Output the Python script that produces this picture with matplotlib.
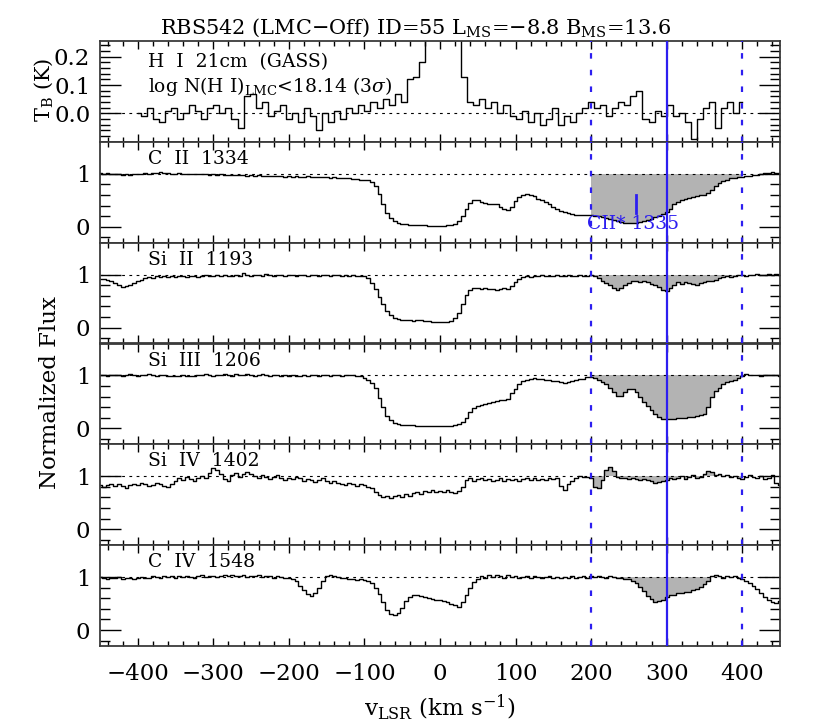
import numpy as np
import matplotlib.pyplot as plt
from matplotlib.ticker import MultipleLocator, FixedLocator

plt.rcParams['font.family'] = 'DejaVu Serif'
plt.rcParams['mathtext.fontset'] = 'dejavuserif'

# velocity bins (km/s)
v_uv = np.arange(-450, 451, 5)
v_hi = np.arange(-400, 401, 8)

# GASS 21cm brightness temperature (K)
hi_tb = [0.00, -0.01, 0.02, -0.02, -0.03, 0.01, 0.02, -0.02, 0.00, 0.03,
         0.01, -0.02, 0.02, 0.03, 0.00, 0.02, -0.02, -0.05, 0.06, 0.07,
         0.02, 0.04, -0.01, 0.01, 0.03, -0.02, 0.00, -0.03, 0.02, -0.01,
         -0.06, 0.00, -0.03, 0.01, -0.02, 0.02, 0.00, 0.03, 0.01, 0.04,
         0.02, 0.05, 0.03, 0.07, 0.04, 0.12, 0.13, 0.18, 0.40, 0.90,
         1.50, 1.80, 1.60, 1.10, 0.13, 0.04, 0.03, 0.05, 0.02, 0.04,
         0.00, 0.03, -0.01, -0.02, 0.01, -0.03, 0.00, -0.04, -0.02, 0.02,
         -0.04, -0.01, -0.03, 0.00, 0.02, 0.04, 0.02, 0.03, -0.01, 0.02,
         0.04, 0.03, 0.06, 0.08, -0.02, -0.03, 0.01, -0.01, 0.03, -0.01,
         0.00, -0.03, -0.09, -0.02, 0.02, 0.04, -0.05, 0.02, 0.04, 0.00,
         0.04]

c2_1334 = [1.01, 1.00, 1.01, 0.99, 1.00, 0.99, 0.98, 0.99, 0.98, 0.99,
           1.00, 0.99, 1.01, 1.00, 1.02, 1.01, 1.03, 1.02, 1.01, 1.00,
           1.00, 1.01, 1.00, 0.99, 1.00, 0.99, 1.00, 1.00, 0.99, 0.98,
           0.99, 0.98, 0.99, 0.98, 0.97, 0.98, 0.98, 0.97, 0.97, 0.96,
           0.97, 0.96, 0.97, 0.96, 0.95, 0.96, 0.96, 0.95, 0.95, 0.94,
           0.95, 0.94, 0.95, 0.94, 0.94, 0.95, 0.94, 0.93, 0.94, 0.93,
           0.93, 0.92, 0.93, 0.92, 0.91, 0.92, 0.91, 0.90, 0.90, 0.89,
           0.89, 0.88, 0.84, 0.76, 0.62, 0.42, 0.26, 0.16, 0.11, 0.08,
           0.06, 0.05, 0.04, 0.04, 0.03, 0.03, 0.03, 0.02, 0.02, 0.02,
           0.02, 0.02, 0.03, 0.04, 0.06, 0.10, 0.20, 0.33, 0.45, 0.50,
           0.50, 0.47, 0.44, 0.43, 0.43, 0.42, 0.38, 0.33, 0.32, 0.38,
           0.48, 0.56, 0.60, 0.62, 0.60, 0.57, 0.53, 0.50, 0.46, 0.42,
           0.38, 0.34, 0.30, 0.27, 0.25, 0.24, 0.23, 0.23, 0.22, 0.22,
           0.22, 0.21, 0.20, 0.19, 0.17, 0.15, 0.12, 0.10, 0.09, 0.08,
           0.07, 0.07, 0.08, 0.09, 0.10, 0.12, 0.15, 0.18, 0.21, 0.24,
           0.27, 0.34, 0.42, 0.47, 0.50, 0.52, 0.54, 0.56, 0.58, 0.59,
           0.59, 0.63, 0.70, 0.77, 0.82, 0.86, 0.89, 0.91, 0.92, 0.93,
           0.94, 0.95, 0.96, 0.97, 0.98, 0.99, 1.01, 1.02, 1.03, 1.02,
           1.02]

si2_1193 = [0.92, 0.91, 0.89, 0.87, 0.84, 0.80, 0.76, 0.78, 0.81, 0.84,
            0.88, 0.90, 0.93, 0.96, 0.94, 0.97, 0.95, 0.98, 0.96, 0.97,
            0.96, 0.98, 0.97, 0.95, 0.97, 0.98, 0.96, 0.97, 0.99, 0.98,
            0.97, 0.99, 0.98, 1.00, 0.98, 0.97, 0.99, 0.98, 1.02, 0.99,
            0.98, 1.00, 0.99, 0.98, 1.01, 0.99, 0.98, 1.00, 0.99, 0.98,
            1.00, 0.99, 0.98, 1.00, 0.99, 0.98, 1.00, 0.99, 0.98, 1.00,
            0.99, 0.98, 1.00, 0.99, 0.98, 0.99, 0.98, 0.99, 0.98, 0.97,
            0.97, 0.93, 0.84, 0.72, 0.58, 0.44, 0.31, 0.23, 0.18, 0.16,
            0.15, 0.14, 0.14, 0.13, 0.14, 0.14, 0.13, 0.12, 0.11, 0.11,
            0.10, 0.10, 0.11, 0.13, 0.18, 0.28, 0.45, 0.62, 0.71, 0.74,
            0.75, 0.73, 0.74, 0.72, 0.73, 0.71, 0.72, 0.74, 0.73, 0.78,
            0.85, 0.91, 0.95, 0.97, 0.96, 0.98, 0.97, 0.99, 0.98, 0.97,
            0.98, 0.99, 0.97, 0.98, 0.99, 0.97, 0.98, 0.99, 0.97, 0.98,
            0.99, 0.97, 0.93, 0.88, 0.84, 0.80, 0.74, 0.70, 0.74, 0.80,
            0.84, 0.87, 0.88, 0.86, 0.87, 0.85, 0.83, 0.80, 0.76, 0.70,
            0.68, 0.74, 0.81, 0.85, 0.83, 0.86, 0.84, 0.82, 0.80, 0.84,
            0.86, 0.88, 0.87, 0.90, 0.93, 0.95, 0.97, 0.96, 0.98, 0.99,
            1.00, 0.98, 1.00, 0.99, 1.01, 1.00, 0.99, 1.01, 1.00, 1.01,
            1.00]

si3_1206 = [1.00, 1.01, 0.99, 1.00, 1.01, 1.00, 0.99, 1.01, 1.02, 1.00,
            0.99, 1.00, 1.01, 1.03, 1.00, 0.99, 1.01, 1.00, 0.99, 0.98,
            0.99, 0.98, 1.00, 0.99, 0.98, 0.99, 1.00, 1.01, 1.02, 1.00,
            0.99, 1.01, 1.00, 1.03, 1.01, 0.99, 1.02, 1.01, 1.00, 1.02,
            1.01, 0.99, 1.00, 1.02, 1.00, 0.99, 1.00, 1.01, 0.99, 1.00,
            0.99, 1.00, 0.98, 0.99, 1.00, 0.99, 1.01, 1.00, 0.99, 1.01,
            1.00, 0.99, 1.00, 1.01, 0.99, 1.00, 1.01, 1.00, 0.99, 0.98,
            0.95, 0.91, 0.85, 0.76, 0.58, 0.40, 0.23, 0.15, 0.11, 0.08,
            0.07, 0.07, 0.06, 0.06, 0.05, 0.05, 0.05, 0.04, 0.04, 0.04,
            0.04, 0.04, 0.04, 0.05, 0.06, 0.08, 0.12, 0.20, 0.30, 0.38,
            0.42, 0.44, 0.46, 0.48, 0.50, 0.51, 0.53, 0.54, 0.56, 0.66,
            0.74, 0.84, 0.90, 0.92, 0.94, 0.95, 0.93, 0.94, 0.92, 0.91,
            0.90, 0.89, 0.87, 0.86, 0.88, 0.90, 0.91, 0.93, 0.94, 0.96,
            0.97, 0.95, 0.92, 0.88, 0.83, 0.76, 0.68, 0.61, 0.62, 0.69,
            0.75, 0.74, 0.68, 0.59, 0.50, 0.42, 0.34, 0.27, 0.21, 0.18,
            0.17, 0.17, 0.18, 0.19, 0.19, 0.20, 0.21, 0.22, 0.23, 0.25,
            0.28, 0.40, 0.60, 0.71, 0.77, 0.83, 0.87, 0.90, 0.92, 0.95,
            0.99, 1.02, 1.01, 1.00, 1.01, 0.99, 1.00, 1.01, 1.00, 1.00,
            0.99]

si4_1402 = [0.84, 0.80, 0.83, 0.86, 0.81, 0.85, 0.82, 0.78, 0.84, 0.86,
            0.83, 0.87, 0.85, 0.81, 0.84, 0.88, 0.85, 0.82, 0.80, 0.86,
            0.90, 0.96, 0.93, 0.98, 0.94, 0.91, 0.96, 1.00, 0.97, 1.06,
            1.15, 1.12, 1.04, 0.95, 0.90, 1.02, 1.06, 0.98, 1.04, 1.08,
            1.05, 1.00, 0.97, 1.03, 0.99, 0.95, 0.98, 1.02, 0.96, 0.93,
            0.97, 0.94, 0.99, 0.96, 0.91, 0.95, 0.93, 0.89, 0.92, 0.96,
            0.90, 0.87, 0.91, 0.88, 0.86, 0.84, 0.88, 0.85, 0.82, 0.86,
            0.83, 0.80, 0.78, 0.70, 0.64, 0.61, 0.63, 0.59, 0.62, 0.64,
            0.60, 0.66, 0.63, 0.68, 0.70, 0.67, 0.72, 0.70, 0.74, 0.71,
            0.73, 0.70, 0.74, 0.71, 0.69, 0.72, 0.80, 0.92, 0.96, 0.90,
            0.94, 0.97, 0.92, 0.95, 0.90, 0.93, 0.96, 0.91, 0.94, 0.92,
            0.95, 0.91, 0.94, 0.97, 0.93, 0.96, 0.92, 0.95, 0.93, 0.97,
            0.94, 0.96, 0.82, 0.74, 0.85, 0.90, 0.97, 1.00, 0.98, 0.99,
            0.96, 0.80, 0.78, 0.92, 1.12, 1.17, 1.10, 0.98, 0.97, 0.96,
            0.95, 0.97, 0.94, 0.93, 0.95, 0.92, 0.90, 0.88, 0.89, 0.91,
            0.93, 0.96, 0.94, 0.97, 1.00, 0.95, 0.98, 1.02, 0.96, 0.99,
            1.04, 1.10, 1.07, 1.03, 1.05, 1.00, 1.02, 0.99, 1.01, 0.97,
            0.95, 0.99, 1.03, 0.98, 0.96, 1.00, 0.94, 0.97, 1.02, 0.88,
            0.83]

c4_1548 = [1.00, 0.99, 0.97, 0.99, 0.98, 1.00, 0.97, 0.98, 0.99, 0.97,
           0.98, 1.00, 0.99, 0.98, 1.01, 1.00, 0.99, 1.02, 1.00, 1.01,
           0.99, 1.01, 1.00, 1.02, 1.00, 0.99, 1.01, 1.03, 1.00, 1.02,
           1.01, 1.00, 1.02, 1.04, 1.01, 1.03, 1.02, 1.01, 1.03, 1.00,
           1.02, 1.01, 1.03, 1.00, 1.02, 1.01, 0.99, 1.01, 1.00, 0.98,
           0.99, 0.96, 0.92, 0.84, 0.75, 0.68, 0.65, 0.70, 0.80, 0.92,
           1.02, 1.03, 1.01, 1.00, 0.98, 0.99, 0.96, 0.97, 0.95, 0.96,
           0.94, 0.92, 0.88, 0.80, 0.68, 0.52, 0.38, 0.30, 0.29, 0.33,
           0.42, 0.54, 0.63, 0.66, 0.67, 0.64, 0.62, 0.60, 0.58, 0.57,
           0.56, 0.54, 0.52, 0.50, 0.47, 0.44, 0.52, 0.66, 0.80, 0.90,
           0.97, 1.01, 0.99, 1.03, 1.00, 1.04, 1.02, 0.99, 1.03, 1.00,
           1.01, 0.99, 1.00, 1.02, 0.99, 1.01, 1.00, 0.98, 1.00, 1.01,
           0.99, 1.00, 0.98, 1.00, 0.99, 1.01, 0.99, 1.00, 1.02, 0.99,
           1.01, 1.00, 1.02, 1.00, 0.99, 1.01, 1.00, 0.99, 0.98, 0.97,
           0.96, 0.93, 0.88, 0.81, 0.73, 0.65, 0.58, 0.53, 0.54, 0.57,
           0.62, 0.67, 0.66, 0.70, 0.69, 0.72, 0.71, 0.75, 0.78, 0.82,
           0.86, 0.92, 1.02, 1.04, 1.01, 0.99, 1.02, 1.00, 1.01, 0.98,
           0.96, 0.93, 0.88, 0.83, 0.77, 0.70, 0.62, 0.57, 0.53, 0.51,
           0.54]

uv_names = ['C  II  1334', 'Si  II  1193', 'Si  III  1206', 'Si  IV  1402', 'C  IV  1548']
uv_flux = [c2_1334, si2_1193, si3_1206, si4_1402, c4_1548]

v_lo, v_ms, v_hi_lim = 200, 300, 400   # integration window and MS velocity
ciistar_v = 260

blue = '#2d1ef0'
frame = '#3a3a3a'
W, H = 830, 727

fig = plt.figure(figsize=(8.3, 7.27), dpi=100)
top, bot = 41, 646
ph = (bot - top) / 6.0
axes = []
for i in range(6):
    y0 = top + ph * (i + 1)
    ax = fig.add_axes([100 / W, 1 - y0 / H, 680 / W, ph / H])
    axes.append(ax)


def style(ax, last):
    ax.set_xlim(-450, 450)
    ax.xaxis.set_major_locator(MultipleLocator(100))
    ax.xaxis.set_minor_locator(MultipleLocator(20))
    ax.tick_params(which='both', direction='in', top=True, right=True,
                   labelsize=16.5, pad=7, colors='black')
    ax.tick_params(axis='x', which='major', length=6, width=1)
    ax.tick_params(axis='x', which='minor', length=3.5, width=1)
    ax.tick_params(axis='y', which='major', length=15, width=1)
    ax.tick_params(axis='y', which='minor', length=7, width=1)
    ax.tick_params(axis='x', labelbottom=last, pad=12)
    for s in ax.spines.values():
        s.set_color(frame)
        s.set_linewidth(1.3)
    for v, ls in [(v_lo, (0, (2.5, 5))), (v_ms, '-'), (v_hi_lim, (0, (2.5, 5)))]:
        ax.axvline(v, color=blue, lw=1.6, ls=ls, zorder=5)


# H I panel
ax = axes[0]
ax.step(v_hi, hi_tb, where='mid', color='black', lw=1.0)
ax.axhline(0, color='black', lw=0.8, ls=(0, (2.5, 4)))
ax.set_ylim(-0.10, 0.255)
ax.yaxis.set_major_locator(FixedLocator([0.0, 0.1, 0.2]))
ax.yaxis.set_minor_locator(MultipleLocator(0.02))
ax.set_yticklabels(['0.0', '0.1', '0.2'])
style(ax, False)
ax.text(0.07, 0.79, 'H  I  21cm  (GASS)', transform=ax.transAxes, fontsize=13.5, va='center')
ax.text(0.07, 0.55, r'log N(H I)$_{\rm LMC}$<18.14 (3$\sigma$)', transform=ax.transAxes,
        fontsize=13.5, va='center')

v = v_uv
win = (v >= v_lo) & (v <= v_hi_lim)
for k, (name, flux) in enumerate(zip(uv_names, uv_flux)):
    ax = axes[k + 1]
    f = np.array(flux)
    ax.fill_between(v[win], f[win], 1, step='mid', color='#b3b3b3', lw=0)
    ax.step(v, f, where='mid', color='black', lw=1.0)
    ax.axhline(1, color='black', lw=0.8, ls=(0, (2.5, 4)))
    ax.set_ylim(-0.3, 1.6)
    ax.yaxis.set_major_locator(FixedLocator([0, 1]))
    ax.yaxis.set_minor_locator(FixedLocator([-0.2, 0.2, 0.4, 0.6, 0.8]))
    style(ax, k == 4)
    ax.text(0.07, 0.83, name, transform=ax.transAxes, fontsize=13.5, va='center')

# C II* 1335 marker
axes[1].plot([ciistar_v, ciistar_v], [0.25, 0.6], color=blue, lw=2, zorder=6)
axes[1].text(ciistar_v - 5, 0.05, 'CII* 1335', color=blue, fontsize=13.5,
             ha='center', va='center', zorder=6)

fig.text(416 / W, 1 - 28 / H,
         r'RBS542 (LMC$-$Off) ID=55 L$_{\rm MS}$=$-$8.8 B$_{\rm MS}$=13.6',
         ha='center', va='center', fontsize=15)
fig.text(44 / W, 1 - 90 / H, r'T$_{\rm B}$ (K)', rotation=90, ha='center', va='center',
         fontsize=15)
fig.text(50 / W, 1 - 393 / H, 'Normalized Flux', rotation=90, ha='center', va='center',
         fontsize=16.5)
fig.text(440 / W, 1 - 707 / H, r'v$_{\rm LSR}$ (km s$^{-1}$)', ha='center', va='center',
         fontsize=16.5)

fig.savefig('out.png', dpi=100)
